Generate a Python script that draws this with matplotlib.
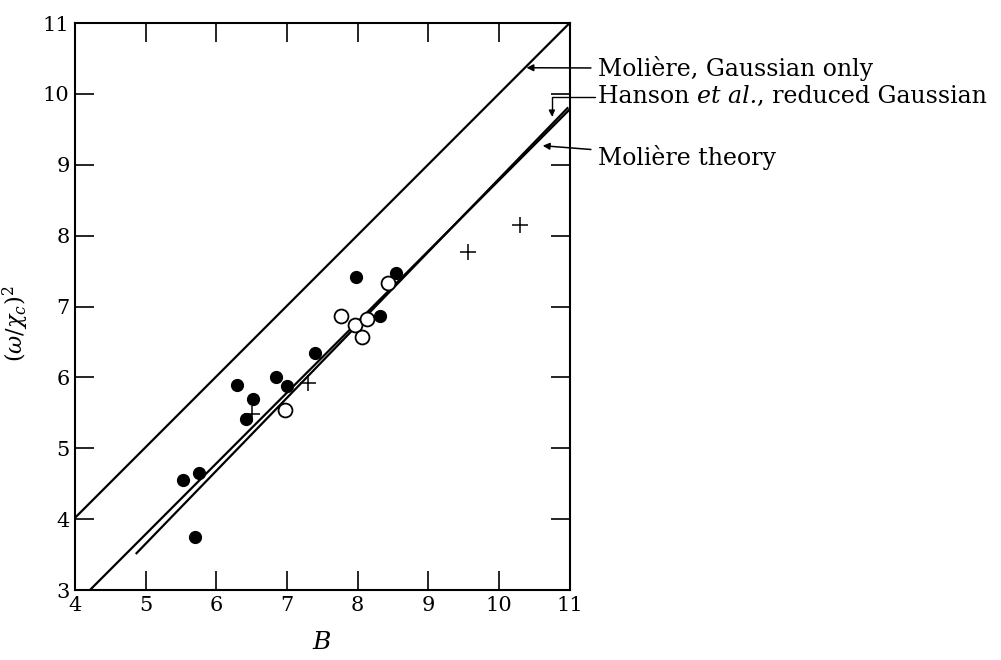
import matplotlib
matplotlib.use("Agg")
import matplotlib.pyplot as plt

plt.rcParams['font.family'] = 'DejaVu Serif'
plt.rcParams['mathtext.fontset'] = 'dejavuserif'

# theory lines (end points)
gauss_x = [4.0, 11.0]
gauss_y = [4.02, 11.0]
theory_x = [4.21, 11.0]
theory_y = [3.0, 9.78]
hanson_x = [4.87, 10.97]
hanson_y = [3.52, 9.80]

# measured points
filled_x = [5.53, 5.76, 5.70, 6.29, 6.52, 6.42, 6.84, 7.00, 7.39, 7.97, 8.54, 8.32]
filled_y = [4.55, 4.65, 3.75, 5.89, 5.70, 5.42, 6.01, 5.88, 6.34, 7.42, 7.48, 6.86]
open_x = [6.97, 7.77, 7.96, 8.13, 8.06, 8.43]
open_y = [5.54, 6.86, 6.74, 6.83, 6.57, 7.33]
plus_x = [6.50, 7.30, 9.56, 10.30]
plus_y = [5.49, 5.92, 7.77, 8.15]

fig = plt.figure(figsize=(10.01, 6.6), dpi=100)
ax = fig.add_axes([0.075, 0.106, 0.494, 0.859])

ax.plot(gauss_x, gauss_y, color='black', lw=1.6)
ax.plot(theory_x, theory_y, color='black', lw=1.6)
ax.plot(hanson_x, hanson_y, color='black', lw=1.6)

ax.plot(filled_x, filled_y, 'o', color='black', ms=8.5, ls='none')
ax.plot(open_x, open_y, 'o', mfc='white', mec='black', mew=1.3, ms=10, ls='none')
ax.plot(plus_x, plus_y, '+', color='black', ms=12, mew=1.1, ls='none')

ax.set_xlim(4, 11)
ax.set_ylim(3, 11)
ax.set_xticks(range(4, 12))
ax.set_yticks(range(3, 12))
ax.tick_params(direction='in', length=14, width=1.2, top=True, right=True,
               labelsize=15, pad=4)
for s in ax.spines.values():
    s.set_linewidth(1.5)

ax.set_xlabel('$B$', fontsize=18, labelpad=12)
ax.set_ylabel(r'$(\omega/\chi_c)^2$', fontsize=16)
ax.yaxis.set_label_coords(-0.09, 0.47)

# labels with pointers
lab = dict(fontsize=17, va='center', ha='left', annotation_clip=False)
arr = dict(arrowstyle='-|>', color='black', lw=1.1, shrinkA=3, shrinkB=0,
           mutation_scale=10)
ax.annotate('Molière, Gaussian only', xy=(10.39, 10.37), xytext=(11.4, 10.36),
            arrowprops=arr, **lab)
ax.annotate('Molière theory', xy=(10.62, 9.27), xytext=(11.4, 9.11),
            arrowprops=arr, **lab)

ax.annotate('', xy=(10.75, 9.68), xytext=(11.36, 9.96), annotation_clip=False,
            arrowprops=dict(arr, lw=1.0, mutation_scale=9, shrinkA=0,
                            connectionstyle='angle,angleA=0,angleB=90,rad=0'))
t1 = ax.text(11.4, 9.96, 'Hanson ', fontsize=17, va='center', ha='left')
t2 = ax.annotate('et al.', xy=(1, 0), xycoords=t1, va='bottom', ha='left',
                 fontsize=17, fontstyle='italic')
ax.annotate(', reduced Gaussian', xy=(1, 0), xycoords=t2, va='bottom', ha='left',
            fontsize=17)

fig.savefig('out.png', dpi=100)
